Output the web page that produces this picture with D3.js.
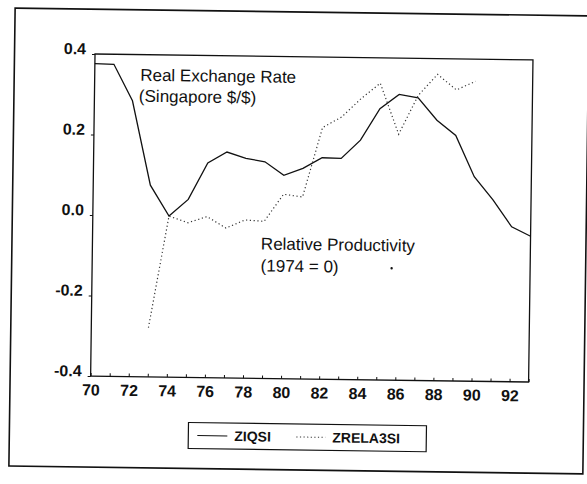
<!DOCTYPE html>
<html>
<head>
<meta charset="utf-8">
<script src="https://cdn.jsdelivr.net/npm/d3@7"></script>
<style>
  body { margin: 0; background: #fff; }
  text { font-family: Arial, "Liberation Sans", sans-serif; fill: #111; }
</style>
</head>
<body>
<div id="root" style="width:587px;height:484px"></div>
<script>
const root = document.getElementById('root');

// Data
const years = d3.range(70, 94);
const ziqsi = [0.376, 0.375, 0.285, 0.076, 0.0, 0.042, 0.133, 0.161, 0.146, 0.138, 0.105, 0.123,
               0.150, 0.149, 0.195, 0.274, 0.310, 0.302, 0.247, 0.210, 0.108, 0.051, -0.015, -0.038];
const relaYears = d3.range(73, 91);
const zrela3si = [-0.278, 0.0, -0.016, 0.0, -0.028, -0.007, -0.01, 0.058, 0.052, 0.225, 0.252,
                  0.298, 0.337, 0.211, 0.308, 0.361, 0.323, 0.345];
const xTicks = d3.range(70, 93, 2);
const yTicks = [-0.4, -0.2, 0.0, 0.2, 0.4];
const seriesNames = ['ZIQSI', 'ZRELA3SI'];

const width = 587, height = 484;
const plot = {left: 92.5, right: 530.5, top: 56.8, bottom: 378.9};

const svg = d3.select(root).append('svg')
    .attr('width', width)
    .attr('height', height);

// the scanned page is a little tilted
const g = svg.append('g')
    .attr('transform', 'rotate(0.78, 300, 240)');

// Outer frame
g.append('rect')
    .attr('x', 12).attr('y', 12)
    .attr('width', 574).attr('height', 458)
    .attr('fill', 'none')
    .attr('stroke', '#111')
    .attr('stroke-width', 1.6);

const x = d3.scaleLinear().domain([70, 93]).range([plot.left, plot.right]);
const y = d3.scaleLinear().domain([-0.4, 0.4]).range([plot.bottom, plot.top]);

// Plot box
g.append('rect')
    .attr('x', plot.left).attr('y', plot.top)
    .attr('width', plot.right - plot.left)
    .attr('height', plot.bottom - plot.top)
    .attr('fill', 'none')
    .attr('stroke', '#111')
    .attr('stroke-width', 1.3);

// X axis: ticks every year pointing inward, labels every 2 years
const xAxis = d3.axisBottom(x)
    .tickValues(years)
    .tickSize(-3)
    .tickFormat(d => xTicks.includes(d) ? d : '');
g.append('g')
    .attr('transform', `translate(0,${plot.bottom})`)
    .call(xAxis)
    .call(a => a.select('.domain').remove())
    .call(a => a.selectAll('line').attr('stroke', '#111'))
    .call(a => a.selectAll('text')
        .attr('y', 8)
        .attr('font-size', 16)
        .attr('font-weight', 'bold')
        .attr('font-family', 'Arial, "Liberation Sans", sans-serif'));

// Y axis (plain hyphen for negatives, like the original)
const yAxis = d3.axisLeft(y)
    .tickValues(yTicks)
    .tickSize(3)
    .tickPadding(6)
    .tickFormat(d => d3.format('.1f')(d).replace('\u2212', '-'));
g.append('g')
    .attr('transform', `translate(${plot.left},0)`)
    .call(yAxis)
    .call(a => a.select('.domain').remove())
    .call(a => a.selectAll('line').attr('stroke', '#111'))
    .call(a => a.selectAll('text')
        .attr('dy', 0)
        .attr('font-size', 16)
        .attr('font-weight', 'bold')
        .attr('font-family', 'Arial, "Liberation Sans", sans-serif'));

// Lines
const line = d3.line().x(d => x(d[0])).y(d => y(d[1]));

g.append('path')
    .datum(years.map((yr, i) => [yr, ziqsi[i]]))
    .attr('d', line)
    .attr('fill', 'none')
    .attr('stroke', '#111')
    .attr('stroke-width', 1.3);

g.append('path')
    .datum(relaYears.map((yr, i) => [yr, zrela3si[i]]))
    .attr('d', line)
    .attr('fill', 'none')
    .attr('stroke', '#333')
    .attr('stroke-width', 1.2)
    .attr('stroke-dasharray', '1.2,2.6');

// Annotations
const notes = g.append('g').attr('font-size', 17);
notes.append('text').attr('x', 138).attr('y', 83).text('Real Exchange Rate');
notes.append('text').attr('x', 137).attr('y', 104).text('(Singapore $/$)');
notes.append('text').attr('x', 261).attr('y', 250).text('Relative Productivity');
notes.append('text').attr('x', 261).attr('y', 272).text('(1974 = 0)');
g.append('circle').attr('cx', 392).attr('cy', 267).attr('r', 1.2).attr('fill', '#111');

// Legend
const legend = g.append('g').attr('transform', 'translate(191,424)');
legend.append('rect')
    .attr('width', 238).attr('height', 26)
    .attr('fill', 'none')
    .attr('stroke', '#111')
    .attr('stroke-width', 1.2);
legend.append('line')
    .attr('x1', 9).attr('x2', 39).attr('y1', 13).attr('y2', 13)
    .attr('stroke', '#111').attr('stroke-width', 1);
legend.append('text')
    .attr('x', 46).attr('y', 18)
    .attr('font-size', 14).attr('font-weight', 'bold')
    .text(seriesNames[0]);
legend.append('line')
    .attr('x1', 108).attr('x2', 137).attr('y1', 13).attr('y2', 13)
    .attr('stroke', '#333').attr('stroke-width', 1)
    .attr('stroke-dasharray', '1.2,2.4');
legend.append('text')
    .attr('x', 144).attr('y', 18)
    .attr('font-size', 14).attr('font-weight', 'bold')
    .text(seriesNames[1]);
</script>
</body>
</html>
